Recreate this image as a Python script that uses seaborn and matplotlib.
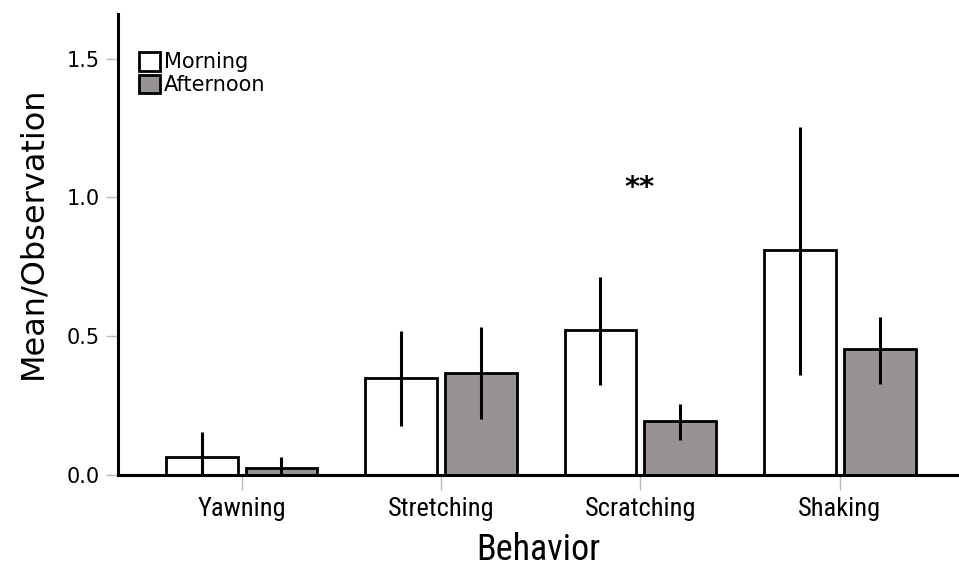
import matplotlib
matplotlib.use("Agg")
import matplotlib.pyplot as plt
from matplotlib import font_manager
import seaborn as sns
import pandas as pd

# Mean behaviour counts per observation, with error bar limits
behaviors = ["Yawning", "Stretching", "Scratching", "Shaking"]
periods = ["Morning", "Afternoon"]
morning_mean = [0.065, 0.347, 0.520, 0.808]
afternoon_mean = [0.023, 0.367, 0.192, 0.451]
morning_low = [0.0, 0.174, 0.324, 0.358]
morning_high = [0.152, 0.518, 0.712, 1.252]
afternoon_low = [0.0, 0.201, 0.125, 0.326]
afternoon_high = [0.064, 0.531, 0.254, 0.567]
significance = "**"
sig_height = 1.035

df = pd.DataFrame({
    "Behavior": behaviors * 2,
    "Period": [periods[0]] * 4 + [periods[1]] * 4,
    "Mean": morning_mean + afternoon_mean,
})


def pick_font(candidates):
    names = {f.name for f in font_manager.fontManager.ttflist}
    for c in candidates:
        if c in names:
            return c
    return "DejaVu Sans"


narrow = pick_font(["Liberation Sans Narrow", "DejaVu Sans Condensed", "Roboto Condensed", "Liberation Sans"])

sns.set_theme(style="white")
plt.rcParams["font.family"] = ["DejaVu Sans"]
plt.rcParams["text.color"] = "black"
plt.rcParams["axes.labelcolor"] = "black"
plt.rcParams["xtick.color"] = "black"
plt.rcParams["ytick.color"] = "black"

fig = plt.figure(figsize=(9.59, 5.67), dpi=100)
ax = fig.add_axes([0.123, 0.163, 0.877, 0.812])

sns.barplot(
    data=df, x="Behavior", y="Mean", hue="Period", order=behaviors,
    hue_order=periods, palette=["#ffffff", "#969392"], errorbar=None,
    gap=0.1, width=0.8, edgecolor="black", linewidth=2.0, ax=ax,
    saturation=1,
)

# Error bars placed at the centres of the drawn bars
for container, lows, highs in zip(ax.containers, [morning_low, afternoon_low],
                                  [morning_high, afternoon_high]):
    xs = [b.get_x() + b.get_width() / 2 for b in container]
    ax.vlines(xs, lows, highs, colors="black", linewidth=2.2, zorder=5)

ax.set_ylim(0, 1.66)
ax.set_xlim(-0.62, 3.598)
ax.set_yticks([0.0, 0.5, 1.0, 1.5])
ax.set_yticklabels(["0.0", "0.5", "1.0", "1.5"])

for side in ["top", "right"]:
    ax.spines[side].set_visible(False)
for side in ["left", "bottom"]:
    ax.spines[side].set_linewidth(2.2)
    ax.spines[side].set_color("black")

ax.tick_params(axis="y", direction="out", length=9, width=1.0, color="#bbbbbb",
               labelcolor="black", labelsize=15, pad=4, left=True)
ax.tick_params(axis="x", direction="out", length=11, width=1.0, color="#bbbbbb",
               labelcolor="black", labelsize=19, pad=5, bottom=True)
for lbl in ax.get_xticklabels():
    lbl.set_fontfamily(narrow)

ax.set_xlabel("Behavior", fontsize=26, family=narrow, labelpad=8, color="black")
ax.set_ylabel("Mean/Observation", fontsize=23, labelpad=10, color="black")
ax.yaxis.set_label_coords(-0.083, 0.525)

ax.text(2.0 - 0.005, sig_height, significance, ha="center", va="center",
        fontsize=21, fontweight="bold", color="black")

handles, labels = ax.get_legend_handles_labels()
if ax.get_legend() is not None:
    ax.get_legend().remove()
ax.legend(handles, labels, loc="upper left", bbox_to_anchor=(0.01, 0.945),
          frameon=False, fontsize=15, handlelength=1.0, handleheight=1.0,
          handletextpad=0.2, labelspacing=0.1, borderaxespad=0.2,
          labelcolor="black")

fig.savefig("out.png", dpi=100)
